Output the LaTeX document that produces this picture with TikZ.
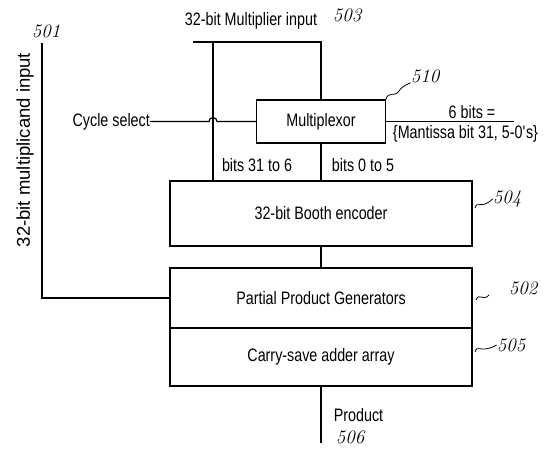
\documentclass[tikz,border=0pt]{standalone}
\usepackage{fontspec}
\setsansfont{Liberation Sans}[FakeStretch=0.795]
\newfontfamily\plainsans{Liberation Sans}
\usetikzlibrary{calc,positioning}

\begin{document}
\begin{tikzpicture}[
      x=1pt, y=-1pt,
      node distance=22pt,
      every node/.style={font=\sffamily\fontsize{18}{21}\selectfont, inner sep=0pt},
      unit/.style={
        draw, line width=1.2pt, outer sep=0pt,
        minimum width=302pt, align=center
      },
      wire/.style={line width=1.2pt},
      refnum/.style={font=\rmfamily\itshape\fontsize{19}{21}\selectfont},
      squig/.style={line width=0.8pt}
    ]
      \useasboundingbox (0,0) rectangle (548,457);
      \node[unit, minimum width=129pt, minimum height=43pt] (mux) at (321,121.5) {Multiplexor};
      \node[unit, minimum height=65pt] (booth) at (321,213.5) {32-bit Booth encoder};
      \node[unit, minimum height=60pt, below=of booth] (ppg) {Partial Product Generators};
      \node[unit, minimum height=58pt, below=0pt of ppg] (csa) {Carry-save adder array};

      \node (mplier) at (251,21) {32-bit Multiplier input};
      \node[anchor=east] (cyc) at (150,121.5) {Cycle select};
      \node (hi) at (257,165) {bits 31 to 6};
      \node (lo) at (363,165) {bits 0 to 5};
      \node (sixbits) at (472,112) {6 bits =};
      \node (mant) at (465.5,134) {\{Mantissa bit 31, 5-0\textquotesingle s\}};
      \node (prodlbl) at (358.5,415) {Product};
      \node[rotate=90, font=\plainsans\fontsize{18.5}{20}\selectfont] (mcdlbl) at (25,150)
        {32-bit multiplicand input};

      \coordinate (mtl) at (193,42);
      \coordinate (mtr) at (321,42);
      \coordinate (tap) at (213,42);
      \coordinate (mcd) at (42,43);
      \coordinate (muxout) at (514,121.5);
      \coordinate (prod) at (321,443);

      \draw[wire] (mtl) -- (mtr) -- (mux.north);
      \draw[wire] (tap) -- (tap |- booth.north);
      \draw[wire] (mux.south) -- (booth.north);
      \draw[wire] (booth.south) -- (ppg.north);
      \draw[wire] (csa.south) -- (prod);
      \draw[wire] (mux.east) -- (muxout);
      \draw[wire] (mcd) -- (mcd |- ppg.west) -- (ppg.west);
      \draw[wire] (cyc.east |- mux.west) -- ($(tap |- mux.west)+(-4,0)$)
        arc[start angle=180, end angle=0, radius=4pt] -- (mux.west);

      % reference numerals
      \node[refnum] (r501) at (46,31) {501};
      \node[refnum] (r503) at (347,15) {503};
      \node[refnum] (r510) at (425,76) {510};
      \node[refnum] (r504) at (507,199) {504};
      \node[refnum] (r502) at (523,288) {502};
      \node[refnum] (r505) at (511,345) {505};
      \node[refnum] (r506) at (350,437) {506};
      \draw[squig] (mux.north east) .. controls (389,90) and (394,98) .. (399,91)
        .. controls (402,87) .. (r510.south west);
      \draw[squig] (475,208) .. controls (477,200) and (481,210) .. (r504.west);
      \draw[squig] (476,300) .. controls (479,292) and (483,302) .. (489,295);
      \draw[squig] (475,352) .. controls (477,344) and (481,354) .. (r505.west);
    \end{tikzpicture}
\end{document}
